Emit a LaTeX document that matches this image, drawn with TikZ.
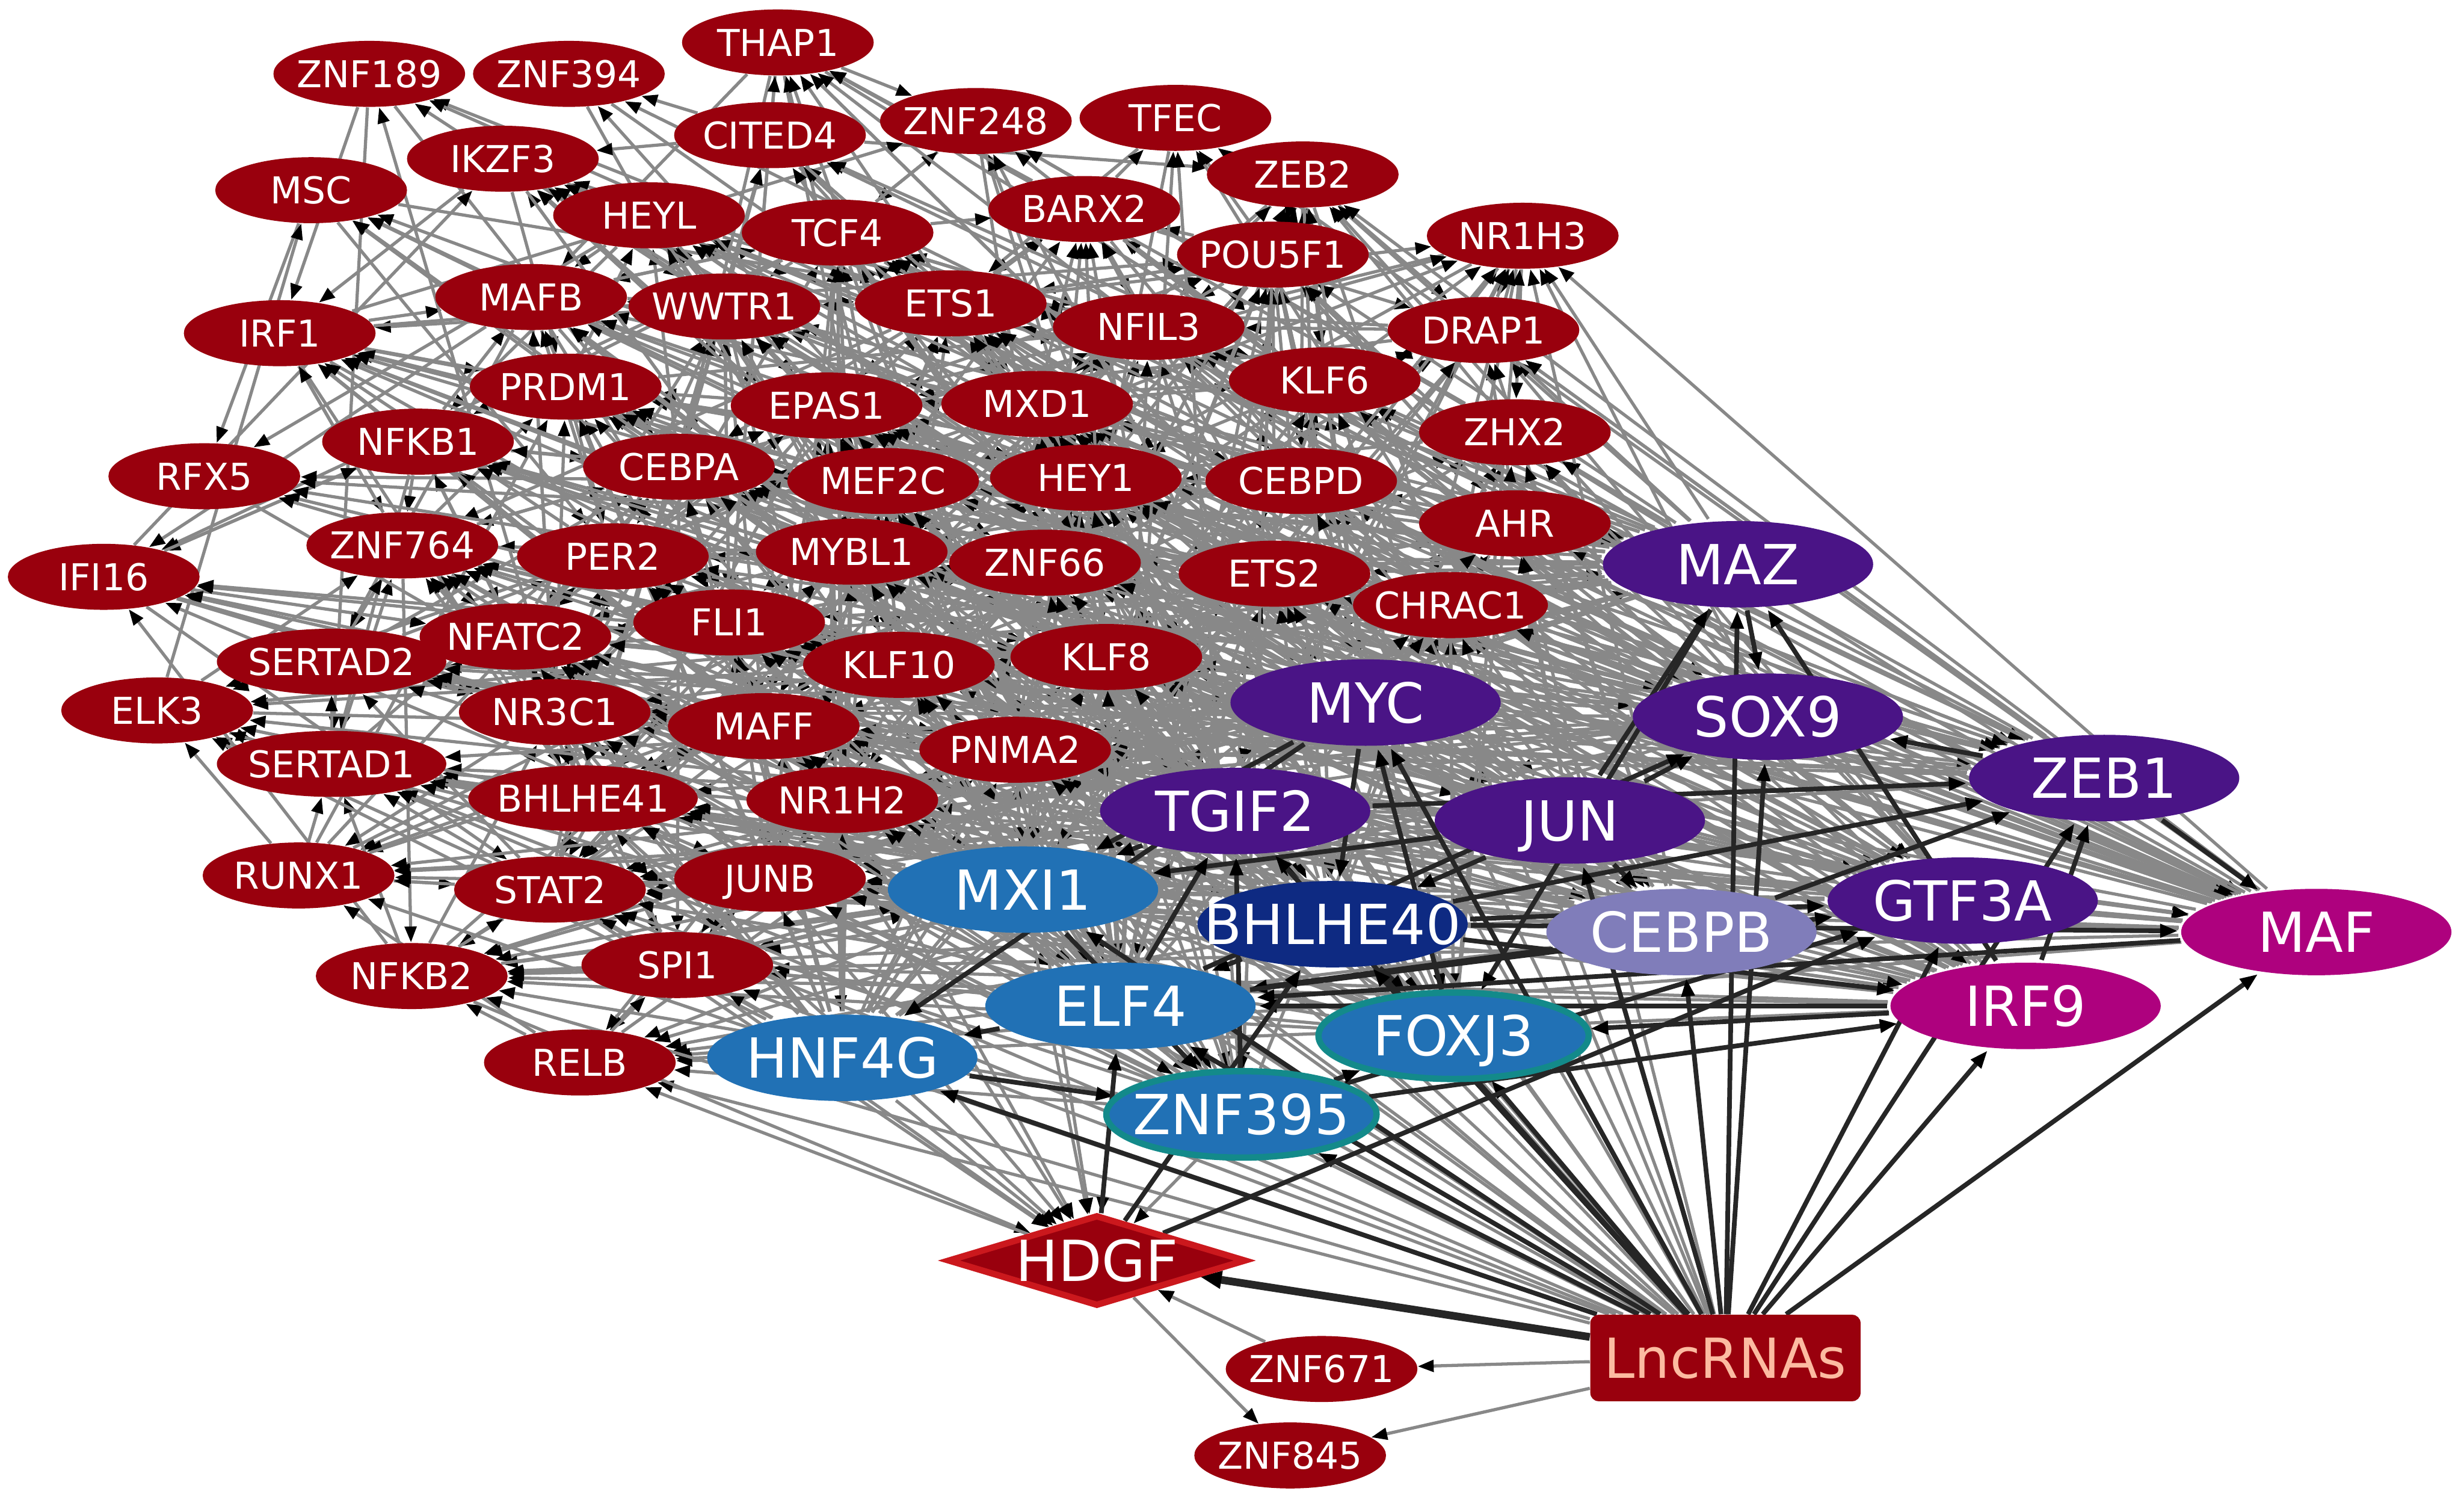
\documentclass[tikz,border=0pt]{standalone}
\usepackage{fontspec}
\setmainfont{DejaVu Sans}
\usetikzlibrary{shapes.geometric,arrows.meta}
\pgfdeclarelayer{bg}
\pgfdeclarelayer{edges}
\pgfsetlayers{bg,edges,main}
\definecolor{cred}{HTML}{99000D}
\definecolor{cpurple}{HTML}{4A1486}
\definecolor{cnavy}{HTML}{0E2A82}
\definecolor{clilac}{HTML}{807DBA}
\definecolor{cmag}{HTML}{AE017E}
\definecolor{cblue}{HTML}{2171B5}
\definecolor{cteal}{HTML}{138A8A}
\definecolor{chdgfb}{HTML}{CB181D}
\definecolor{clnctext}{HTML}{FCBBA1}
\definecolor{cgrey}{HTML}{888888}
\definecolor{cdark}{HTML}{262626}
\tikzset{
  rednode/.style={ellipse, fill=cred, draw=none, text=white, inner sep=0pt,
    minimum height=0.84cm, text height=9.8pt, text depth=0pt,
    font=\fontsize{13.4}{15}\selectfont},
  bignode/.style={ellipse, inner sep=0pt, minimum width=3.44cm, minimum height=1.1cm,
    text=white, text height=14.6pt, text depth=0pt, line width=2.3pt,
    font=\fontsize{20}{24}\selectfont},
  gedge/.style={draw=cgrey, line width=1.15pt, -{Triangle[length=5.8pt,width=4.2pt,color=black]}},
  dedge/.style={draw=cdark, line width=1.7pt, -{Triangle[length=6.5pt,width=4.6pt,color=black]}},
  tedge/.style={draw=cdark, line width=2.8pt, -{Triangle[length=8pt,width=6pt,color=black]}},
}
\def\redlist{THAP1/495/27/122/0.5, ZNF189/235/47/122/0.25, ZNF394/362/47/122/0.3,
CITED4/490/86/122/0.6, ZNF248/621/77/122/0.5, TFEC/748/75/122/0.6, IKZF3/320/101/122/0.8,
MSC/198/121/122/0.7, HEYL/413/137/122/0.9, TCF4/533/148/122/1, BARX2/690/133/122/0.8,
ZEB2/829/111/122/0.8, NR1H3/969/150/122/0.8, POU5F1/810/162/122/1, MAFB/338/189/122/1,
WWTR1/461/195/122/1, ETS1/605/193/122/1, NFIL3/731/208/122/1, DRAP1/944/210/122/0.9,
IRF1/178/212/122/0.9, PRDM1/360/246/122/1, EPAS1/526/258/122/1, MXD1/660/257/122/1,
KLF6/843/242/122/1, ZHX2/964/275/122/0.9, NFKB1/266/281/122/1, RFX5/130/303/122/0.7,
CEBPA/432/297/122/1, MEF2C/562/306/122/1, HEY1/691/304/122/1, CEBPD/828/306/122/1,
AHR/964/333/122/0.9, IFI16/66/367/122/0.6, ZNF764/256/347/122/0.9, PER2/390/354/122/1,
MYBL1/542/351/122/1, ZNF66/665/358/122/1, ETS2/811/365/122/1, CHRAC1/923/385/124/0.9,
NFATC2/328/405/122/1, FLI1/464/396/122/1, SERTAD2/211/421/146/0.8, KLF10/572/423/122/1,
KLF8/704/418/122/1, ELK3/100/452/122/0.6, NR3C1/353/453/122/1, MAFF/486/462/122/1,
PNMA2/646/477/122/1, SERTAD1/211/486/146/0.8, BHLHE41/371/508/146/1, NR1H2/536/509/122/1,
RUNX1/190/557/122/0.9, STAT2/350/566/122/1, JUNB/490/559/122/1, NFKB2/262/621/122/0.9,
SPI1/431/614/122/1, RELB/369/676/122/0.9}
\def\hublist{MAZ/1106/359/cpurple/none, MYC/869/447/cpurple/none, SOX9/1125/456/cpurple/none,
TGIF2/786/516/cpurple/none, JUN/999/522/cpurple/none, ZEB1/1339/495/cpurple/none,
GTF3A/1249/573/cpurple/none, BHLHE40/848/588/cnavy/none, CEBPB/1070/593/clilac/none,
MAF/1474/593/cmag/none, IRF9/1289/640/cmag/none, MXI1/651/566/cblue/none,
ELF4/713/640/cblue/none, HNF4G/536/673/cblue/none, FOXJ3/925/659/cblue/cteal,
ZNF395/790/709/cblue/cteal}
\begin{document}
\begin{tikzpicture}[x=0.02cm,y=-0.02cm]
\useasboundingbox (0,0) rectangle (1568,956);
\begin{pgfonlayer}{bg}
\fill[white] (0,0) rectangle (1568,956);
\end{pgfonlayer}
\pgfmathsetseed{4242}
% red nodes
\foreach \n/\x/\y/\w/\wt [count=\i] in \redlist {
  \pgfmathsetmacro\ww{\w*0.02}
  \node[rednode, minimum width=\ww cm] (\n) at (\x,\y) {\makebox[0pt]{\n}};
  \expandafter\xdef\csname R\i\endcsname{\n}
  \expandafter\xdef\csname RX\i\endcsname{\x}
  \expandafter\xdef\csname RY\i\endcsname{\y}
  \expandafter\xdef\csname RW\i\endcsname{\wt}
}
% hub nodes
\foreach \n/\x/\y/\c/\dc [count=\i] in \hublist {
  \node[bignode, fill=\c, draw=\dc] (\n) at (\x,\y) {\makebox[0pt]{\n}};
  \expandafter\xdef\csname H\i\endcsname{\n}
}
\node[rednode, minimum width=2.44cm] (ZNF671) at (841,871) {\makebox[0pt]{ZNF671}};
\node[rednode, minimum width=2.44cm] (ZNF845) at (821,926) {\makebox[0pt]{ZNF845}};
\node[diamond, fill=cred, draw=chdgfb, line width=2.3pt, inner sep=0pt,
  minimum width=3.8cm, minimum height=1.16cm, text=white, text height=15pt, text depth=0pt,
  font=\fontsize{20.5}{24}\selectfont] (HDGF) at (698,802) {\makebox[0pt]{HDGF}};
\node[rectangle, rounded corners=3pt, fill=cred, inner sep=0pt,
  minimum width=3.44cm, minimum height=1.1cm, text=clnctext, text height=14.6pt, text depth=0pt,
  font=\fontsize{20}{24}\selectfont] (LNC) at (1098,864) {\makebox[0pt]{LncRNAs}};

\begin{pgfonlayer}{edges}
% red -> red
\foreach \i in {1,...,57}{
  \foreach \j in {1,...,57}{
    \ifnum\i=\j\else
      \edef\na{\csname R\i\endcsname}\edef\nb{\csname R\j\endcsname}
      \pgfmathsetmacro\pp{0.9*\csname RW\i\endcsname*\csname RW\j\endcsname*exp(-100*veclen((\csname RX\i\endcsname-\csname RX\j\endcsname)/100,(\csname RY\i\endcsname-\csname RY\j\endcsname)/100)/160)}
      \pgfmathrnd
      \pgfmathtruncatemacro\ok{\pgfmathresult<\pp}
      \ifnum\ok=1 \draw[gedge] (\na) -- (\nb); \fi
    \fi
  }
}
% hub -> red and red -> hub
\foreach \h in {1,...,16}{
  \foreach \j in {1,...,57}{
    \edef\na{\csname H\h\endcsname}\edef\nb{\csname R\j\endcsname}
    \pgfmathsetmacro\pp{0.5*\csname RW\j\endcsname}
    \pgfmathrnd
    \pgfmathtruncatemacro\ok{\pgfmathresult<\pp}
    \ifnum\ok=1 \draw[gedge] (\na) -- (\nb); \fi
    \pgfmathsetmacro\pp{0.09*\csname RW\j\endcsname}
    \pgfmathrnd
    \pgfmathtruncatemacro\ok{\pgfmathresult<\pp}
    \ifnum\ok=1 \draw[gedge] (\nb) -- (\na); \fi
  }
}
% LncRNAs -> red targets
\foreach \t in {RELB,SPI1,JUNB,NR1H2,PNMA2,KLF8,KLF10,MAFF,BHLHE41,STAT2,NFKB2,RUNX1,ETS2,
  CHRAC1,AHR,CEBPD,ZNF66,HEY1,MYBL1,FLI1,NR3C1,KLF6,MXD1,MEF2C,PER2,SERTAD1}{
  \draw[gedge] (LNC) -- (\t);
}
% -> HDGF
\foreach \s in {HNF4G,ELF4,MXI1,SPI1,STAT2,JUNB,BHLHE41,NR1H2,PNMA2,MAFF,ZNF395,NFKB2}{
  \draw[gedge] (\s) -- (HDGF);
}
\draw[gedge] (HDGF) -- (RELB);
\draw[gedge] (HDGF) -- (ZNF845);
\draw[gedge] (ZNF671) -- (HDGF);
\draw[gedge] (LNC) -- (ZNF671);
\draw[gedge] (LNC) -- (ZNF845);
% hub <-> hub dark
\foreach \a in {1,...,16}{
  \foreach \b in {1,...,16}{
    \ifnum\a=\b\else
      \edef\na{\csname H\a\endcsname}\edef\nb{\csname H\b\endcsname}
      \pgfmathrnd
      \pgfmathtruncatemacro\ok{\pgfmathresult<0.15}
      \ifnum\ok=1 \draw[dedge] (\na) -- (\nb); \fi
    \fi
  }
}
% LncRNAs -> hubs
\foreach \h in {1,...,16}{
  \edef\nb{\csname H\h\endcsname}
  \draw[dedge] (LNC) -- (\nb);
}
\draw[dedge] (HDGF) -- (GTF3A);
\draw[dedge] (HDGF) -- (BHLHE40);
\draw[dedge] (HDGF) -- (ELF4);
\draw[tedge] (LNC) -- (HDGF);
\end{pgfonlayer}
\end{tikzpicture}
\end{document}
